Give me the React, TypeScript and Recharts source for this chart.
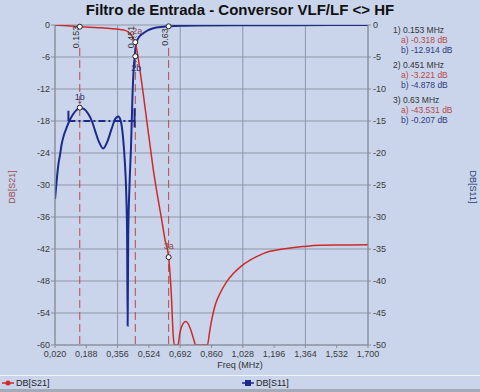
import React from 'react';
import { ComposedChart, Line, XAxis, YAxis, CartesianGrid, ReferenceLine, ReferenceDot } from 'recharts';

// S21 (left axis, dB) – frequency in MHz
const s21Freq = [0.02, 0.06, 0.1, 0.153, 0.2, 0.25, 0.3, 0.35, 0.39, 0.413, 0.43, 0.44, 0.451, 0.46, 0.476, 0.494, 0.512, 0.53, 0.548, 0.57, 0.593, 0.61, 0.63, 0.645, 0.655, 0.662, 0.68, 0.69, 0.7, 0.723, 0.745, 0.765, 0.775, 0.838, 0.85, 0.861, 0.88, 0.906, 0.94, 0.977, 1.02, 1.067, 1.11, 1.156, 1.21, 1.264, 1.35, 1.442, 1.55, 1.7];
const s21Val = [0, -0.08, -0.18, -0.318, -0.4, -0.5, -0.6, -0.75, -0.95, -1.3, -1.9, -2.5, -3.221, -4.8, -8.4, -13.0, -17.8, -22.5, -27.2, -32.0, -36.6, -40.2, -43.531, -51, -58.5, -60, -60, -57.8, -56.5, -55.6, -56.8, -59, -60, -60, -57.5, -55.3, -52.5, -50.3, -48.2, -46.6, -45.2, -44.1, -43.3, -42.6, -42.2, -41.9, -41.55, -41.3, -41.25, -41.2];

// S11 (right axis, dB)
const s11Freq = [0.02, 0.03, 0.038, 0.047, 0.056, 0.07, 0.083, 0.1, 0.118, 0.135, 0.154, 0.175, 0.199, 0.218, 0.235, 0.255, 0.279, 0.3, 0.324, 0.345, 0.36, 0.372, 0.385, 0.395, 0.402, 0.407, 0.41, 0.413, 0.42, 0.428, 0.436, 0.442, 0.448, 0.456, 0.47, 0.494, 0.52, 0.548, 0.6, 0.63, 0.7, 0.8, 1.0, 1.3, 1.7];
const s11Val = [-27.2, -24.0, -21.8, -20.3, -18.6, -17.0, -16.0, -14.8, -13.9, -13.3, -12.95, -13.1, -13.9, -15.0, -16.5, -18.2, -19.3, -18.3, -16.2, -14.6, -14.3, -14.9, -17.5, -21.5, -26, -33, -47, -33, -25, -19, -11, -7, -4.9, -2.9, -1.9, -1.3, -0.8, -0.5, -0.28, -0.207, -0.12, -0.08, -0.05, -0.03, 0];

const xTicks = [0.02, 0.188, 0.356, 0.524, 0.692, 0.86, 1.028, 1.196, 1.364, 1.532, 1.7];
const leftTicks = [0, -6, -12, -18, -24, -30, -36, -42, -48, -54, -60];
const rightTicks = [0, -5, -10, -15, -20, -25, -30, -35, -40, -45, -50];

// markers: frequency, S21 value (a), S11 value (b)
const markerFreq = [0.153, 0.451, 0.63];
const markerA = [-0.318, -3.221, -43.531];
const markerB = [-12.914, -4.878, -0.207];

// S11 mask (dB, MHz)
const maskFreq = [0.092, 0.447];
const maskLevel = -15;

const RED = '#cc2a2a';
const BLUE = '#1b2a8c';
const GRID = '#8e96a7';
const BG = '#cad5ec';
const FONT = '"Liberation Sans", Arial, sans-serif';

const s21Data = s21Freq.map((f, i) => ({ f, v: s21Val[i] }));
const s11Data = s11Freq.map((f, i) => ({ f, v: s11Val[i] }));

const tickStyle = { fontSize: 9, fill: '#3a3a3a', fontFamily: FONT };

function FreqTag(props: any) {
  const { cx, cy, text } = props;
  const x = cx - 1;
  const y = cy + 12;
  return (
    <text x={x} y={y} transform={`rotate(-90 ${x} ${y})`} textAnchor="middle" fontSize={9} fontFamily={FONT} fill="#333">
      {text}
    </text>
  );
}

function MarkerDot(props: any) {
  const { cx, cy, name, below, color, dx = 0 } = props;
  return (
    <g>
      <circle cx={cx} cy={cy} r={2.5} fill="#fff" stroke="#222" strokeWidth={1} />
      {name ? (
        below ? (
          <g>
            <path d={`M${cx - 1.5},${cy + 6} L${cx},${cy + 4.5} L${cx + 1.5},${cy + 6}`} stroke={color} fill="none" strokeWidth={0.8} />
            <text x={cx + 1 + dx} y={cy + 15} textAnchor="middle" fontSize={9} fill={color} fontFamily={FONT}>{name}</text>
          </g>
        ) : (
          <g>
            <path d={`M${cx - 1.5},${cy - 6} L${cx},${cy - 4.5} L${cx + 1.5},${cy - 6}`} stroke={color} fill="none" strokeWidth={0.8} />
            <text x={cx + dx} y={cy - 8} textAnchor="middle" fontSize={9} fill={color} fontFamily={FONT}>{name}</text>
          </g>
        )
      ) : null}
    </g>
  );
}

const dotLabels = [
  { a: '', b: '1b' },
  { a: '2a', b: '2b' },
  { a: '3a', b: '' },
];

export default function App() {
  return (
    <div style={{ position: 'fixed', left: 0, top: 0, width: 480, height: 392, background: BG, fontFamily: FONT, overflow: 'hidden' }}>
      <div style={{ position: 'absolute', top: 1, left: 0, width: 480, textAlign: 'center', fontSize: 15, fontWeight: 'bold', color: '#111' }}>
        Filtro de Entrada - Conversor VLF/LF &lt;&gt; HF
      </div>

      <ComposedChart width={480} height={376} margin={{ top: 25, right: 80, bottom: 11, left: 0 }} style={{ position: 'absolute', left: 0, top: 0 }}>
        <CartesianGrid yAxisId="l" stroke={GRID} strokeWidth={1} />
        <XAxis
          dataKey="f"
          type="number"
          domain={[0.02, 1.7]}
          ticks={xTicks}
          allowDataOverflow
          tickFormatter={(v: number) => v.toFixed(3).replace('.', ',')}
          tick={tickStyle}
          tickSize={3}
          tickMargin={3}
          height={20}
          stroke="#8a8f99"
        />
        <YAxis yAxisId="l" domain={[-60, 0]} ticks={leftTicks} allowDataOverflow width={55} tick={tickStyle} tickSize={4} tickMargin={1} stroke="#8a8f99" />
        <YAxis yAxisId="r" orientation="right" domain={[-50, 0]} ticks={rightTicks} allowDataOverflow width={32} tick={tickStyle} tickSize={3} tickMargin={2} stroke="#8a8f99" />

        {markerFreq.map((f) => (
          <ReferenceLine
            key={'ml' + f}
            yAxisId="l"
            segment={[{ x: f, y: -4.3 }, { x: f, y: -60 }]}
            stroke="#b84848"
            strokeDasharray="8 4"
            strokeWidth={1}
          />
        ))}

        <ReferenceLine yAxisId="r" segment={[{ x: maskFreq[0], y: maskLevel }, { x: maskFreq[1], y: maskLevel }]} stroke={BLUE} strokeWidth={2} strokeDasharray="7 3 2 3" />
        <ReferenceLine yAxisId="r" segment={[{ x: maskFreq[0], y: maskLevel + 1.6 }, { x: maskFreq[0], y: maskLevel }]} stroke={BLUE} strokeWidth={2} />
        <ReferenceLine yAxisId="r" segment={[{ x: maskFreq[1], y: maskLevel + 2 }, { x: maskFreq[1], y: maskLevel - 1 }]} stroke={BLUE} strokeWidth={2} />

        <Line data={s11Data} dataKey="v" yAxisId="r" type="monotone" stroke={BLUE} strokeWidth={2} dot={false} isAnimationActive={false} />
        <Line data={s21Data} dataKey="v" yAxisId="l" type="monotone" stroke={RED} strokeWidth={1.5} dot={false} isAnimationActive={false} />

        {markerFreq.map((f) => (
          <ReferenceDot key={'ft' + f} x={f} y={0} yAxisId="l" r={0} shape={(p: any) => <FreqTag {...p} text={String(f)} />} />
        ))}
        {markerFreq.map((f, i) => (
          <ReferenceDot key={'da' + f} x={f} y={markerA[i]} yAxisId="l" shape={(p: any) => <MarkerDot {...p} name={dotLabels[i].a} dx={i === 1 ? 2 : 0} color="#8a4a4a" />} />
        ))}
        {markerFreq.map((f, i) => (
          <ReferenceDot key={'db' + f} x={f} y={markerB[i]} yAxisId="r" shape={(p: any) => <MarkerDot {...p} name={dotLabels[i].b} below={i === 1} color="#2a3270" />} />
        ))}
      </ComposedChart>

      <div style={{ position: 'absolute', left: -17, top: 187, width: 50, textAlign: 'center', transform: 'rotate(-90deg)', transformOrigin: '25px 0', fontSize: 9, color: '#9a4a4a', lineHeight: '9px' }}>
        DB[S21]
      </div>
      <div style={{ position: 'absolute', left: 447, top: 182, width: 50, textAlign: 'center', transform: 'rotate(90deg)', transformOrigin: '25px 5px', fontSize: 9, color: '#2e3a6e', lineHeight: '9px' }}>
        DB[S11]
      </div>

      <div style={{ position: 'absolute', left: 393, top: 25, fontSize: 8.5, lineHeight: '10px', color: '#333' }}>
        {markerFreq.map((f, i) => (
          <div key={'r' + f} style={{ marginBottom: 5 }}>
            <div>{i + 1}) {String(f)} MHz</div>
            <div style={{ paddingLeft: 8, color: '#b84848' }}>a) {markerA[i].toFixed(3)} dB</div>
            <div style={{ paddingLeft: 8, color: '#2e3a7a' }}>b) {markerB[i].toFixed(3)} dB</div>
          </div>
        ))}
      </div>

      <div style={{ position: 'absolute', left: 0, top: 360, width: 480, textAlign: 'center', fontSize: 9, color: '#333' }}>Freq (MHz)</div>

      <div style={{ position: 'absolute', left: 0, top: 375, width: 480, height: 14, borderTop: '1px solid #eef2fb', background: BG }}>
        <div style={{ position: 'absolute', left: 2, top: 2, fontSize: 9, color: '#222', display: 'flex', alignItems: 'center' }}>
          <svg width={12} height={8}><line x1={0} y1={4} x2={12} y2={4} stroke={RED} strokeWidth={1.5} /><circle cx={6} cy={4} r={2.5} fill={RED} /></svg>
          <span style={{ marginLeft: 2 }}>DB[S21]</span>
        </div>
        <div style={{ position: 'absolute', left: 242, top: 2, fontSize: 9, color: '#222', display: 'flex', alignItems: 'center' }}>
          <svg width={12} height={8}><line x1={0} y1={4} x2={12} y2={4} stroke={BLUE} strokeWidth={1.5} /><rect x={3} y={1} width={6} height={6} fill={BLUE} /></svg>
          <span style={{ marginLeft: 2 }}>DB[S11]</span>
        </div>
      </div>
      <div style={{ position: 'absolute', left: 0, top: 389, width: 480, height: 3, background: '#a4abb8' }} />
    </div>
  );
}
